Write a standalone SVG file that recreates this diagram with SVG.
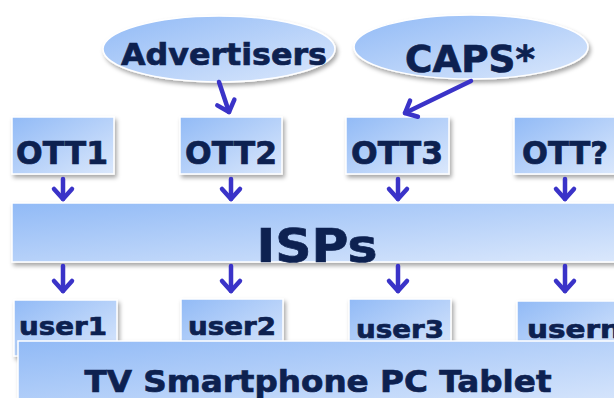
<svg xmlns="http://www.w3.org/2000/svg" width="614" height="398" viewBox="0 0 614 398">
<defs>
<linearGradient id="g" x1="0" y1="0" x2="1" y2="1">
<stop offset="0" stop-color="#91baf6"/>
<stop offset="1" stop-color="#dbe8fc"/>
</linearGradient>
<filter id="sh" x="-10%" y="-10%" width="130%" height="140%">
<feDropShadow dx="2" dy="3" stdDeviation="2" flood-color="#000" flood-opacity="0.35"/>
</filter>
<marker id="ah" markerUnits="userSpaceOnUse" markerWidth="30" markerHeight="30" viewBox="-15 -15 30 30" refX="0" refY="0" orient="auto" overflow="visible">
<path d="M-10,-9 L0,0 L-10,9" fill="none" stroke="#3a33c8" stroke-width="4.5" stroke-linecap="round" stroke-linejoin="round"/>
</marker>
</defs>
<style>
.box{fill:url(#g);stroke:#fff;stroke-width:1.5;filter:url(#sh)}
.t{font-family:"DejaVu Sans","Verdana",sans-serif;font-weight:bold;fill:#0d2150;stroke:#0d2150;stroke-width:0.7;text-anchor:middle}
.c{fill:none;stroke:#3a33c8;stroke-width:4.5;stroke-linecap:round;marker-end:url(#ah)}
</style>
<rect width="614" height="398" fill="#fff"/>
<g id="advertisers"><ellipse class="box" cx="219" cy="49" rx="116" ry="33"/><text class="t" x="224" y="65" font-size="31" textLength="206" lengthAdjust="spacingAndGlyphs">Advertisers</text></g>
<g id="caps"><ellipse class="box" cx="471" cy="47" rx="117" ry="32"/><text class="t" x="470" y="72" font-size="37" textLength="130" lengthAdjust="spacingAndGlyphs">CAPS*</text></g>
<g id="ott1"><rect class="box" x="12" y="117" width="102" height="57"/><text class="t" x="62" y="164" font-size="32" textLength="92" lengthAdjust="spacingAndGlyphs">OTT1</text></g>
<g id="ott2"><rect class="box" x="180" y="117" width="102" height="57"/><text class="t" x="231" y="164" font-size="32" textLength="92" lengthAdjust="spacingAndGlyphs">OTT2</text></g>
<g id="ott3"><rect class="box" x="346" y="117" width="103" height="57"/><text class="t" x="397" y="164" font-size="32" textLength="92" lengthAdjust="spacingAndGlyphs">OTT3</text></g>
<g id="ottq"><rect class="box" x="514" y="117" width="104" height="57"/><text class="t" x="565" y="164" font-size="32" textLength="86" lengthAdjust="spacingAndGlyphs">OTT?</text></g>
<g id="isps"><rect class="box" x="12" y="203" width="610" height="59"/><text class="t" x="317" y="262" font-size="46" textLength="121" lengthAdjust="spacingAndGlyphs">ISPs</text></g>
<g id="user1"><rect class="box" x="14" y="300" width="103" height="56"/><text class="t" x="63" y="335" font-size="25" textLength="88" lengthAdjust="spacingAndGlyphs">user1</text></g>
<g id="user2"><rect class="box" x="181" y="299" width="102" height="56"/><text class="t" x="232" y="335" font-size="25" textLength="88" lengthAdjust="spacingAndGlyphs">user2</text></g>
<g id="user3"><rect class="box" x="349" y="299" width="102" height="56"/><text class="t" x="400" y="338" font-size="25" textLength="88" lengthAdjust="spacingAndGlyphs">user3</text></g>
<g id="usern"><rect class="box" x="517" y="301" width="104" height="56"/><text class="t" x="574" y="338" font-size="25" textLength="94" lengthAdjust="spacingAndGlyphs">usern</text></g>
<g id="devices"><rect class="box" x="18" y="341" width="604" height="70"/><text class="t" x="318" y="392" font-size="31" textLength="467" lengthAdjust="spacingAndGlyphs">TV Smartphone PC Tablet</text></g>
<g id="connectors">
<path class="c" d="M219,82 L229,112"/>
<path class="c" d="M471,81 L405,113"/>
<path class="c" d="M63,179 L63,199"/>
<path class="c" d="M231,179 L231,199"/>
<path class="c" d="M398,179 L398,199"/>
<path class="c" d="M565,179 L565,199"/>
<path class="c" d="M63,266 L63,291"/>
<path class="c" d="M231,266 L231,291"/>
<path class="c" d="M398,266 L398,291"/>
<path class="c" d="M565,266 L565,291"/>
</g>
</svg>
